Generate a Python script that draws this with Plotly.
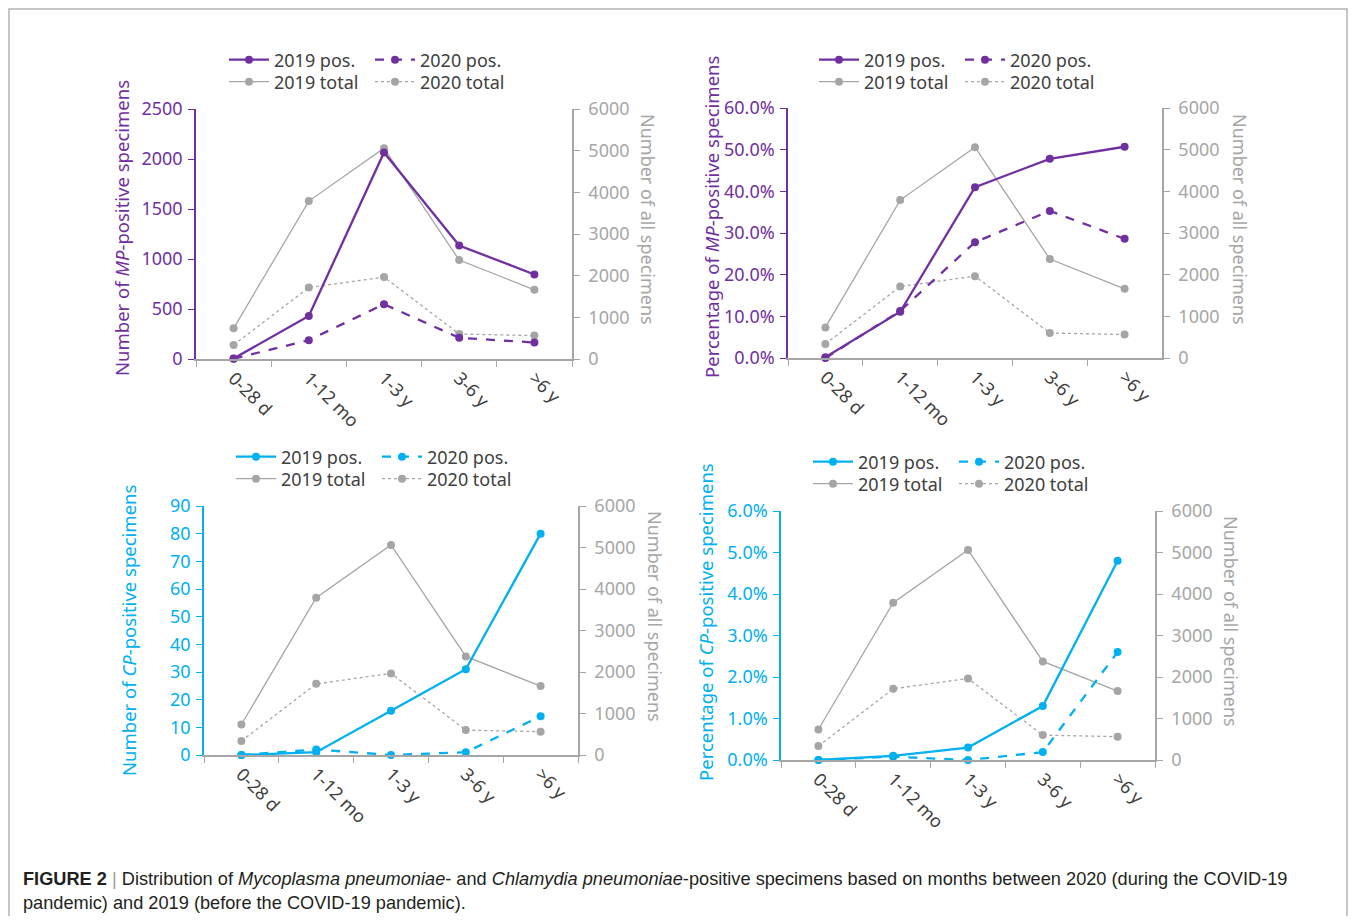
import plotly.graph_objects as go

# page body has an 8px default margin; build a figure that fits inside the window
OFF = 8
W, H = 1356 - 2 * OFF, 924 - 2 * OFF

categories = ["0-28 d", "1-12 mo", "1-3 y", "3-6 y", ">6 y"]

# MP positive counts
mp_count_2019 = [5, 430, 2065, 1135, 845]
mp_count_2020 = [3, 188, 548, 212, 165]
# MP positive percentages
mp_pct_2019 = [0.2, 11.1, 41.0, 47.8, 50.7]
mp_pct_2020 = [0.0, 11.3, 27.8, 35.3, 28.6]
# CP positive counts
cp_count_2019 = [0, 1, 16, 31, 80]
cp_count_2020 = [0, 2, 0, 1, 14]
# CP positive percentages
cp_pct_2019 = [0.0, 0.1, 0.3, 1.3, 4.8]
cp_pct_2020 = [0.0, 0.08, 0.0, 0.19, 2.6]
# totals (all specimens)
total_2019 = [735, 3790, 5060, 2375, 1660]
total_2020 = [337, 1715, 1965, 600, 562]

PURPLE = "#7030A0"
BLUE = "#00B0F0"
GRAY = "#A6A6A6"
GRAY_MK = "#A5A5A5"
TXT = "#404040"
FONT = "Noto Sans"
FS = 18


def px(x):
    return (x - OFF) / W


def py(y):
    return 1 - (y - OFF) / H


panels = [
    dict(dom_x=(196, 572), dom_y=(109, 359), p19=mp_count_2019, p20=mp_count_2020,
         color=PURPLE, rng=[0, 2500], dtick=500, fmt="d", suffix="",
         ltitle="Number of <i>MP</i>-positive specimens", lt=(121, 228), rt=(648, 219),
         leg=(229, 60, 82)),
    dict(dom_x=(788, 1162), dom_y=(108, 358), p19=mp_pct_2019, p20=mp_pct_2020,
         color=PURPLE, rng=[0, 60], dtick=10, fmt=".1f", suffix="%",
         ltitle="Percentage of <i>MP</i>-positive specimens", lt=(712, 217), rt=(1240, 219),
         leg=(819, 60, 82)),
    dict(dom_x=(204, 578), dom_y=(506, 755), p19=cp_count_2019, p20=cp_count_2020,
         color=BLUE, rng=[0, 90], dtick=10, fmt="d", suffix="",
         ltitle="Number of <i>CP</i>-positive specimens", lt=(128, 630), rt=(655, 616),
         leg=(236, 457, 479)),
    dict(dom_x=(781, 1155), dom_y=(511, 760), p19=cp_pct_2019, p20=cp_pct_2020,
         color=BLUE, rng=[0, 6], dtick=1, fmt=".1f", suffix="%",
         ltitle="Percentage of <i>CP</i>-positive specimens", lt=(705, 622), rt=(1231, 621),
         leg=(813, 462, 484)),
]

fig = go.Figure()
layout = dict(
    width=W, height=H,
    margin=dict(l=0, r=0, t=0, b=0, autoexpand=False),
    paper_bgcolor="white", plot_bgcolor="rgba(0,0,0,0)",
    font=dict(family=FONT, size=FS, color=TXT),
    annotations=[], shapes=[],
)

for i, p in enumerate(panels):
    xn = "x" if i == 0 else f"x{i + 1}"
    xk = "xaxis" if i == 0 else f"xaxis{i + 1}"
    yb = 2 * i + 1
    yo = 2 * i + 2
    ybn = "y" if yb == 1 else f"y{yb}"
    ybk = "yaxis" if yb == 1 else f"yaxis{yb}"
    yon = f"y{yo}"
    yok = f"yaxis{yo}"
    lg1 = "legend" if i == 0 else f"legend{2 * i + 1}"
    lg2 = f"legend{2 * i + 2}"

    # totals on right axis (base)
    fig.add_trace(go.Scatter(
        x=categories, y=total_2019, xaxis=xn, yaxis=ybn, mode="lines+markers",
        name="2019 total", legend=lg2, cliponaxis=False,
        line=dict(color=GRAY, width=1.3), marker=dict(color=GRAY_MK, size=8)))
    fig.add_trace(go.Scatter(
        x=categories, y=total_2020, xaxis=xn, yaxis=ybn, mode="lines+markers",
        name="2020 total", legend=lg2, cliponaxis=False,
        line=dict(color=GRAY, width=1.3, dash="dot"), marker=dict(color=GRAY_MK, size=8)))
    # positives on left axis (overlay)
    fig.add_trace(go.Scatter(
        x=categories, y=p["p19"], xaxis=xn, yaxis=yon, mode="lines+markers",
        name="2019 pos.", legend=lg1, cliponaxis=False,
        line=dict(color=p["color"], width=2.3), marker=dict(color=p["color"], size=8)))
    fig.add_trace(go.Scatter(
        x=categories, y=p["p20"], xaxis=xn, yaxis=yon, mode="lines+markers",
        name="2020 pos.", legend=lg1, cliponaxis=False,
        line=dict(color=p["color"], width=2.3, dash="dash"), marker=dict(color=p["color"], size=8)))

    layout[xk] = dict(
        domain=[px(p["dom_x"][0]), px(p["dom_x"][1])], anchor=ybn, automargin=False,
        type="category", range=[-0.5, 4.5], tickson="boundaries",
        ticks="outside", ticklen=6, tickcolor=GRAY, tickwidth=1.3,
        showline=True, linecolor=GRAY, linewidth=1.5, tickangle=45,
        tickfont=dict(size=FS, color=TXT, family=FONT), showgrid=False, zeroline=False)
    layout[ybk] = dict(
        domain=[py(p["dom_y"][1]), py(p["dom_y"][0])], anchor=xn, side="right",
        automargin=False, ticklabelstandoff=5,
        range=[0, 6000], dtick=1000, ticks="outside", ticklen=6, tickcolor=GRAY,
        showline=True, linecolor=GRAY, linewidth=1.5, tickformat="d",
        tickfont=dict(size=FS, color=GRAY, family=FONT), showgrid=False, zeroline=False)
    layout[yok] = dict(
        overlaying=ybn, anchor=xn, side="left", automargin=False, ticklabelstandoff=2,
        range=p["rng"], dtick=p["dtick"], ticks="outside", ticklen=6, tickcolor=p["color"],
        showline=True, linecolor=p["color"], linewidth=1.5,
        tickformat=p["fmt"], ticksuffix=p["suffix"],
        tickfont=dict(size=FS, color=p["color"], family=FONT), showgrid=False, zeroline=False)

    lx, r1, r2 = p["leg"]
    for lk, ry in ((lg1, r1), (lg2, r2)):
        layout[lk] = dict(
            orientation="h", x=px(lx - 5), y=py(ry), xanchor="left", yanchor="middle",
            entrywidth=91, entrywidthmode="pixels", itemwidth=40,
            bgcolor="rgba(0,0,0,0)", borderwidth=0, tracegroupgap=0,
            font=dict(size=FS, color=TXT, family=FONT))

    layout["annotations"].append(dict(
        x=px(p["lt"][0]), y=py(p["lt"][1]), xref="paper", yref="paper",
        text=p["ltitle"], textangle=-90, showarrow=False,
        xanchor="center", yanchor="middle",
        font=dict(size=18.5, color=p["color"], family=FONT)))
    layout["annotations"].append(dict(
        x=px(p["rt"][0]), y=py(p["rt"][1]), xref="paper", yref="paper",
        text="Number of all specimens", textangle=90, showarrow=False,
        xanchor="center", yanchor="middle",
        font=dict(size=18, color=GRAY, family=FONT)))

# caption
cap_font = dict(size=18.2, color="#231F20", family="Liberation Sans")
layout["annotations"].append(dict(
    x=px(21), y=py(879), xref="paper", yref="paper", xanchor="left", yanchor="middle",
    showarrow=False, font=cap_font,
    text=("<b>FIGURE 2</b> <span style='color:#9a9a9a'>|</span> Distribution of "
          "<i>Mycoplasma pneumoniae</i>- and <i>Chlamydia pneumoniae</i>-positive specimens "
          "based on months between 2020 (during the COVID-19")))
layout["annotations"].append(dict(
    x=px(21), y=py(903), xref="paper", yref="paper", xanchor="left", yanchor="middle",
    showarrow=False, font=cap_font,
    text="pandemic) and 2019 (before the COVID-19 pandemic)."))

# outer frame
layout["shapes"].append(dict(
    type="rect", xref="paper", yref="paper",
    x0=px(9), x1=px(1347), y0=py(960), y1=py(9),
    line=dict(color="#B4B4B4", width=1.5), fillcolor="rgba(0,0,0,0)"))

fig.update_layout(**layout)
fig.write_html("out.html")
